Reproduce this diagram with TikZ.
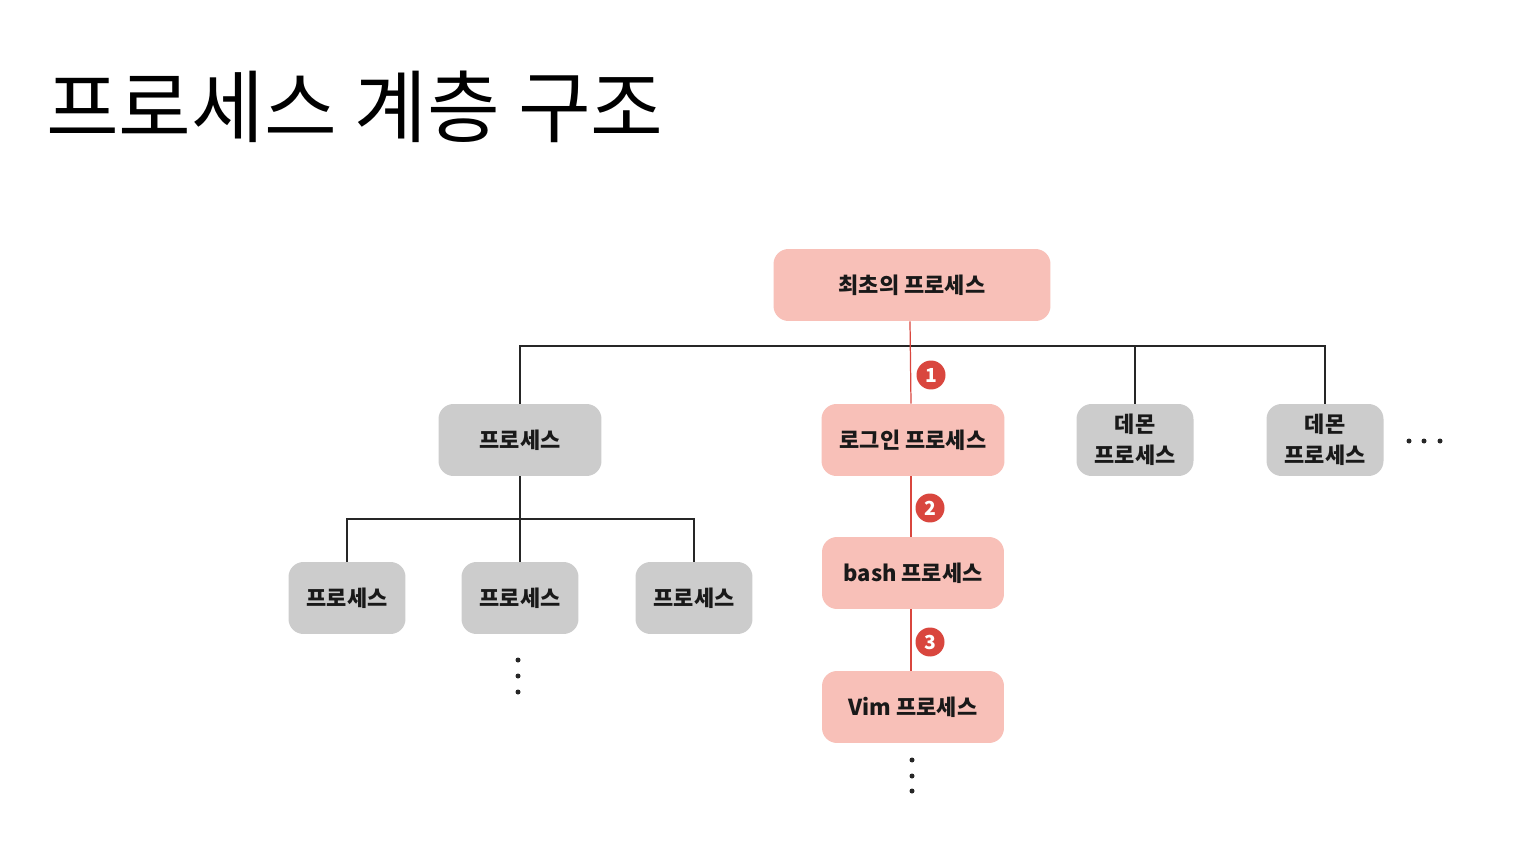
\documentclass[tikz,border=0pt]{standalone}
\usepackage{fontspec}
\setmainfont{Noto Sans CJK KR}
\usetikzlibrary{positioning}
\definecolor{pinkbox}{HTML}{F8C0B8}
\definecolor{graybox}{HTML}{CCCCCC}
\definecolor{badgered}{HTML}{D9463E}
\tikzset{
  proc/.style={rounded corners=0.3cm, minimum height=1.44cm, inner sep=0pt, align=center, font=\fontsize{12.5}{17.6}\selectfont\bfseries, text=black!90},
  pinkproc/.style={proc, fill=pinkbox},
  grayproc/.style={proc, fill=graybox},
  tree/.style={line width=1.1pt, black!85},
  redline/.style={line width=0.7pt, badgered},
  badge/.style={circle, fill=badgered, text=white, inner sep=0pt, minimum size=0.58cm, font=\fontsize{11}{11}\selectfont\bfseries},
  vdots/.style={circle, fill=black!85, inner sep=0pt, minimum size=0.1cm}
}
\begin{document}
\begin{tikzpicture}[x=0.02cm, y=-0.02cm]
    \useasboundingbox[fill=white] (0,0) rectangle (1522,868);
    % 제목
    \node[anchor=west, font=\fontsize{45}{50}\selectfont] (title) at (40,107) {프로세스 계층 구조};
    % 상자
    \node[pinkproc, minimum width=5.54cm] (root) at (912,285) {최초의 프로세스};
    \node[grayproc, minimum width=3.26cm] (p) at (520,440) {프로세스};
    \node[pinkproc, minimum width=3.66cm] (login) at (913,440) {로그인 프로세스};
    \node[grayproc, minimum width=2.34cm] (d1) at (1135,440) {데몬\\프로세스};
    \node[grayproc, minimum width=2.34cm] (d2) at (1325,440) {데몬\\프로세스};
    \node[grayproc, minimum width=2.34cm] (c1) at (347,598) {프로세스};
    \node[grayproc, minimum width=2.34cm] (c2) at (520,598) {프로세스};
    \node[grayproc, minimum width=2.34cm] (c3) at (694,598) {프로세스};
    \node[pinkproc, minimum width=3.64cm] (bash) at (913,573) {bash 프로세스};
    \node[pinkproc, minimum width=3.64cm] (vim) at (913,707) {Vim 프로세스};
    % 연결선
    \coordinate (busA) at (912,346);
    \coordinate (busB) at (520,519);
    \draw[tree] (p.north) |- (busA) -| (d2.north);
    \draw[tree] (d1.north) -- (d1.north |- busA);
    \draw[tree] (c1.north) |- (busB) -| (c3.north);
    \draw[tree] (p.south) -- (c2.north);
    \draw[redline] ([xshift=-0.04cm]root.south) -- ([xshift=-0.04cm]login.north);
    \draw[redline] ([xshift=-0.04cm]login.south) -- ([xshift=-0.04cm]bash.north);
    \draw[redline] ([xshift=-0.04cm]bash.south) -- ([xshift=-0.04cm]vim.north);
    \node[badge] (b1) at (931,375) {1};
    \node[badge] (b2) at (930,508) {2};
    \node[badge] (b3) at (930,642) {3};
    % 점
    \foreach \i/\x in {1/1409,2/1424,3/1440} \node[vdots] (hd\i) at (\x,441) {};
    \foreach \i/\y in {1/660,2/676,3/692} \node[vdots] (cd\i) at (518,\y) {};
    \foreach \i/\y in {1/760,2/776,3/791} \node[vdots] (vd\i) at (912,\y) {};
\end{tikzpicture}
\end{document}
